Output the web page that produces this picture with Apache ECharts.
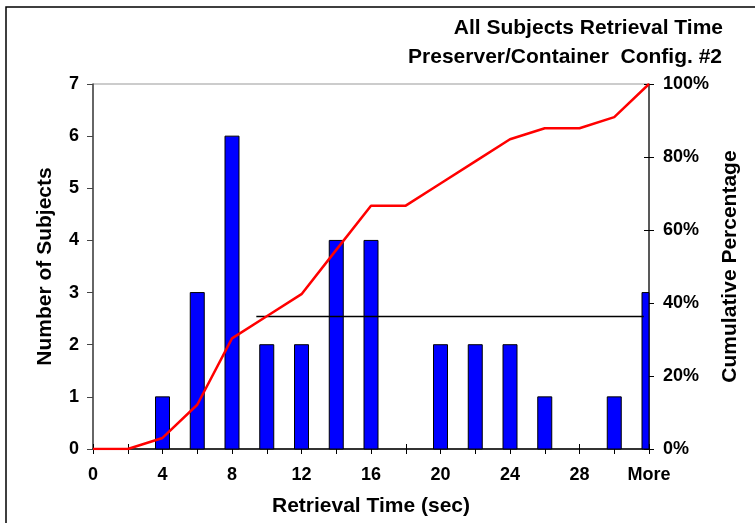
<!DOCTYPE html>
<html>
<head>
<meta charset="utf-8">
<script src="https://cdn.jsdelivr.net/npm/echarts@6/dist/echarts.min.js"></script>
<style>
html,body{margin:0;padding:0;background:#fff;}
#chart{width:755px;height:523px;}
</style>
</head>
<body>
<div id="chart"></div>
<script>
// ---- data ----
var categories = ['0','2','4','6','8','10','12','14','16','18','20','22','24','26','28','30','More'];
var subjectCounts = [0,0,1,3,6,2,2,4,4,0,2,2,2,1,0,1,3];
var cumulativePct = [0,0,0.0303,0.1212,0.3030,0.3636,0.4242,0.5455,0.6667,0.6667,0.7273,0.7879,0.8485,0.8788,0.8788,0.9091,1.0];
var refLineX = [9.4, 31.7];
var refLineY = 2.54;
var leftTicks = {min:0, max:7, interval:1};
var rightTicks = {min:0, max:1, interval:0.2};
var titleLines = ['All Subjects Retrieval Time', 'Preserver/Container  Config. #2'];

var FONT = '"Liberation Sans", Arial, sans-serif';
var chart = echarts.init(document.getElementById('chart'), null, {renderer:'canvas'});
var lblStyle = {color:'#000', fontFamily:FONT, fontWeight:'bold', fontSize:18};
var nameStyle = {color:'#000', fontFamily:FONT, fontWeight:'bold', fontSize:21};
var BAR_W = 14;

var option = {
  backgroundColor:'#fff',
  animation:false,
  graphic:[
    {type:'rect', shape:{x:6, y:7, width:900, height:700}, style:{fill:'none', stroke:'#000', lineWidth:1.5}, silent:true},
    {type:'text', x:723, y:28, style:{text:titleLines[0], textAlign:'right', textVerticalAlign:'middle', fill:'#000', font:'bold 21px "Liberation Sans", Arial, sans-serif'}},
    {type:'text', x:722, y:57, style:{text:titleLines[1], textAlign:'right', textVerticalAlign:'middle', fill:'#000', font:'bold 21px "Liberation Sans", Arial, sans-serif'}}
  ],
  grid:{left:93, right:106, top:84, bottom:74, show:true, borderColor:'#999', borderWidth:1, backgroundColor:'transparent'},
  xAxis:[
    {type:'category', data:categories, boundaryGap:false, position:'bottom',
     axisLine:{show:true, lineStyle:{color:'#000', width:1.5}},
     axisTick:{show:true, interval:0, length:5, lineStyle:{color:'#000'}},
     axisLabel:Object.assign({interval:1, margin:17}, lblStyle),
     splitLine:{show:false},
     name:'Retrieval Time (sec)', nameLocation:'middle', nameGap:47, nameTextStyle:nameStyle},
    {type:'category', data:categories, boundaryGap:false, position:'bottom',
     axisLine:{show:false},
     axisTick:{show:true, inside:true, interval:0, length:5, lineStyle:{color:'#000'}},
     axisLabel:{show:false}, splitLine:{show:false}},
    {type:'value', min:0, max:32, show:false}
  ],
  yAxis:[
    Object.assign({type:'value', position:'left',
     axisLine:{show:true, lineStyle:{color:'#444', width:1.5}},
     axisTick:{show:true, length:6, lineStyle:{color:'#444'}},
     axisLabel:Object.assign({margin:14}, lblStyle),
     splitLine:{show:false},
     name:'Number of Subjects', nameLocation:'middle', nameGap:37, nameRotate:90, nameTextStyle:nameStyle}, leftTicks),
    Object.assign({type:'value', position:'right',
     axisLine:{show:true, lineStyle:{color:'#333', width:1.5}},
     axisTick:{show:true, length:5, lineStyle:{color:'#000'}},
     axisLabel:Object.assign({margin:14, formatter:function(v){return Math.round(v*100)+'%';}}, lblStyle),
     splitLine:{show:false},
     name:'Cumulative Percentage', nameLocation:'middle', nameGap:59, nameRotate:90, nameTextStyle:nameStyle}, rightTicks),
    Object.assign({type:'value', position:'right',
     axisLine:{show:false},
     axisTick:{show:true, inside:true, length:5, lineStyle:{color:'#000'}},
     axisLabel:{show:false}, splitLine:{show:false}}, rightTicks)
  ],
  series:[
    {type:'custom', xAxisIndex:0, yAxisIndex:0, z:2,
     data:subjectCounts.map(function(v,i){return [i, v];}),
     encode:{x:0, y:1},
     itemStyle:{color:'#0000ff', borderColor:'#000', borderWidth:1},
     renderItem:function(params, api){
       var v = api.value(1);
       if (!v) return null;
       var top = api.coord([api.value(0), v]);
       var bot = api.coord([api.value(0), 0]);
       var cs = params.coordSys;
       var rect = echarts.graphic.clipRectByRect(
         {x:top[0]-BAR_W/2, y:top[1], width:BAR_W, height:bot[1]-top[1]},
         {x:cs.x, y:cs.y, width:cs.width, height:cs.height});
       if (!rect) return null;
       return {type:'rect', shape:rect, style:{fill:'#0000ff', stroke:'#000', lineWidth:1}};
     }},
    {type:'line', xAxisIndex:2, yAxisIndex:0, data:refLineX.map(function(x){return [x, refLineY];}),
     symbol:'none', lineStyle:{color:'#000', width:1.5}, z:3},
    {type:'line', xAxisIndex:0, yAxisIndex:1, data:cumulativePct,
     symbol:'none', lineStyle:{color:'#ff0000', width:2.5}, z:4}
  ]
};
chart.setOption(option);
</script>
</body>
</html>
